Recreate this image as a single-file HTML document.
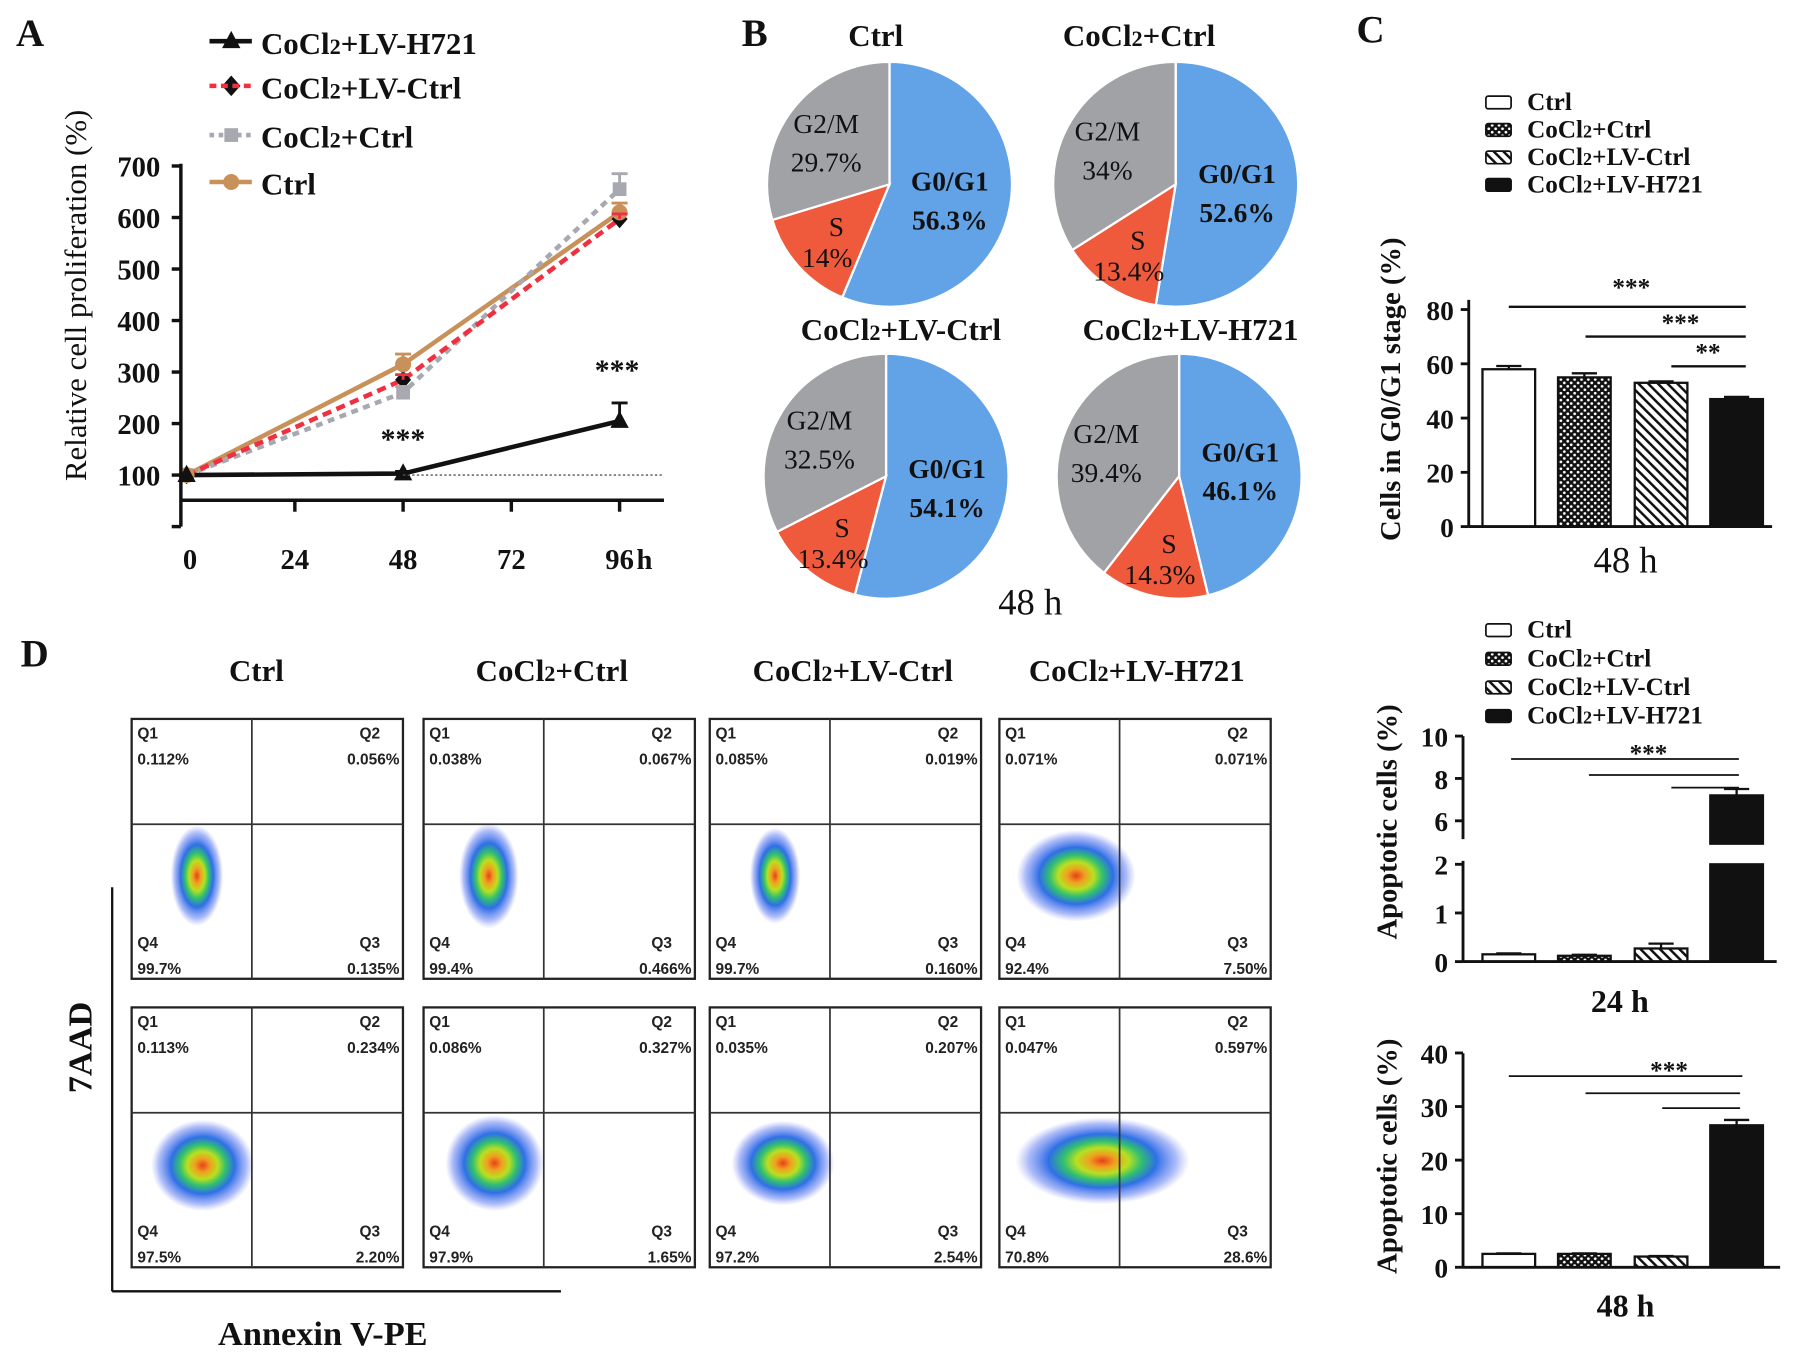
<!DOCTYPE html>
<html><head><meta charset="utf-8">
<style>html,body{margin:0;padding:0;background:#fff}svg{display:block}text{font-family:"Liberation Serif",serif}text.sans{font-family:"Liberation Sans",sans-serif}</style>
</head><body>
<svg id="fig" width="1795" height="1360" viewBox="0 0 1568 1188" preserveAspectRatio="none" xmlns="http://www.w3.org/2000/svg">
<defs>
<pattern id="chk" width="6" height="6" patternUnits="userSpaceOnUse"><rect width="6" height="6" fill="#111"/><circle cx="1.5" cy="1.5" r="1.2" fill="#fff"/><circle cx="4.5" cy="4.5" r="1.2" fill="#fff"/></pattern>
<pattern id="hat" width="6" height="6" patternUnits="userSpaceOnUse" patternTransform="rotate(-45)"><rect width="6" height="6" fill="#fff"/><rect width="2.2" height="6" fill="#111"/></pattern>
<radialGradient id="blob"><stop offset="0" stop-color="#e8401a"/><stop offset="0.15" stop-color="#f0a020"/><stop offset="0.3" stop-color="#b8e020"/><stop offset="0.45" stop-color="#30c070"/><stop offset="0.62" stop-color="#2f6fe6"/><stop offset="0.85" stop-color="#5a78f0" stop-opacity="0.5"/><stop offset="1" stop-color="#8090f8" stop-opacity="0"/></radialGradient>
</defs>
<g id="root"></g>
</svg>
<script>
// Panel A data
const hours = [0, 48, 96];
const xTicksA = [0, 24, 48, 72, 96];
const yTicksA = [100, 200, 300, 400, 500, 600, 700];
const lvH721 = [100, 103, 205];
const lvCtrl = [100, 285, 597];
const cocl2Ctrl = [100, 260, 655];
const ctrlA = [100, 315, 610];
const errH721 = [0, 4, 35];
// Panel B data
const pieTitles = ["Ctrl", "CoCl2+Ctrl", "CoCl2+LV-Ctrl", "CoCl2+LV-H721"];
const pieG0 = [56.3, 52.6, 54.1, 46.1];
const pieS = [14, 13.4, 13.4, 14.3];
const pieG2 = [29.7, 34, 32.5, 39.4];
// Panel C data
const groups = ["Ctrl", "CoCl2+Ctrl", "CoCl2+LV-Ctrl", "CoCl2+LV-H721"];
const g0g1 = [58, 55, 53, 47];
const g0g1Err = [1.2, 1.5, 0.5, 0.8];
const yTicksC = [0, 20, 40, 60, 80];
// Apoptosis data
const apo24 = [0.15, 0.12, 0.27, 7.2];
const apo24Err = [0.02, 0.02, 0.1, 0.3];
const apo48 = [2.5, 2.5, 2, 26.5];
const apo48Err = [0.1, 0.1, 0.1, 1];
const yTicks24Low = [0, 1, 2];
const yTicks24High = [6, 8, 10];
const yTicks48 = [0, 10, 20, 30, 40];
// Flow data
const flowTitles = ["Ctrl", "CoCl2+Ctrl", "CoCl2+LV-Ctrl", "CoCl2+LV-H721"];
const q1 = [["0.112%","0.038%","0.085%","0.071%"],["0.113%","0.086%","0.035%","0.047%"]];
const q2 = [["0.056%","0.067%","0.019%","0.071%"],["0.234%","0.327%","0.207%","0.597%"]];
const q3 = [["0.135%","0.466%","0.160%","7.50%"],["2.20%","1.65%","2.54%","28.6%"]];
const q4 = [["99.7%","99.4%","99.7%","92.4%"],["97.5%","97.9%","97.2%","70.8%"]];

const NS = "http://www.w3.org/2000/svg";
const root = document.getElementById('root');
function mk(tag, at, parent, txt) {
  const e = document.createElementNS(NS, tag);
  for (const k in at) e.setAttribute(k, at[k]);
  if (txt !== undefined) e.textContent = txt;
  (parent || root).appendChild(e);
  return e;
}
function line(x1,y1,x2,y2,w,c,extra){const l=mk('line',Object.assign({x1,y1,x2,y2,stroke:c||'#111','stroke-width':w||2},extra||{}));return l;}
function cocl(parent, x, y, label, size, anchor, weight) {
  const t = mk('text', {x, y, 'font-size': size, 'font-weight': weight||'bold', 'text-anchor': anchor||'start', fill:'#111'}, parent);
  const parts = label.split('CoCl2');
  if (parts.length === 1) { t.textContent = label; return t; }
  const a = document.createElementNS(NS,'tspan'); a.textContent = 'CoCl'; t.appendChild(a);
  const b = document.createElementNS(NS,'tspan'); b.textContent = '2'; b.setAttribute('font-size', size*0.72); t.appendChild(b);
  const c = document.createElementNS(NS,'tspan'); c.textContent = parts[1]; t.appendChild(c);
  return t;
}
function txt(x,y,s,size,anchor,weight,parent,extra){return mk('text',Object.assign({x,y,'font-size':size,'text-anchor':anchor||'middle','font-weight':weight||'bold',fill:'#111'},extra||{}),parent,s);}

// ---------- Panel A ----------
const gA = mk('g', {});


txt(14,40,'A',34,'start','bold',gA);
const xA = t => 163 + t * 3.94;
const yA = v => 415 - (v - 100) * 0.45;
line(158,143,158,460,3,'#111');
line(158,437,580,437,3,'#111');
yTicksA.forEach(v=>{line(150,yA(v),158,yA(v),3); txt(140,yA(v)+9,String(v),25,'end','bold',gA);});
line(150,460,158,460,3);
xTicksA.forEach(t=>{ if(t>0) line(xA(t),437,xA(t),447,3); txt(xA(t)+(t===0?3:0),497,String(t),25,'middle','bold',gA);});
txt(563,497,'h',25,'middle','bold',gA);
const yl = txt(0,0,'Relative cell proliferation (%)',27,'middle','normal',gA,{transform:'translate(75,258) rotate(-90)'});

line(xA(48),415,580,415,1.2,'#555',{'stroke-dasharray':'2,2'});
const seriesA = [
  {n:'series-ctrl', d:ctrlA, c:'#c8915a', dash:'', w:4},
  {n:'series-cocl2-ctrl', d:cocl2Ctrl, c:'#a8a8b0', dash:'6,5', w:4},
  {n:'series-cocl2-lv-ctrl', d:lvCtrl, c:'#f03040', dash:'8,5', w:4},
  {n:'series-cocl2-lv-h721', d:lvH721, c:'#111', dash:'', w:4}
];
seriesA.forEach(s=>{
  const p = mk('polyline',{points:hours.map((h,i)=>xA(h)+','+yA(s.d[i])).join(' '),fill:'none',stroke:s.c,'stroke-width':s.w,'stroke-dasharray':s.dash},gA);
  
  
});
[[cocl2Ctrl,'#a8a8b0',[0,12,30]],[ctrlA,'#c8915a',[0,20,18]],[lvCtrl,'#f03040',[0,10,10]],[lvH721,'#111',errH721]].forEach(([d,c,e])=>{
  hours.forEach((h,i)=>{ if(e[i]>0){ line(xA(h),yA(d[i]),xA(h),yA(d[i]+e[i]),2.5,c); line(xA(h)-7,yA(d[i]+e[i]),xA(h)+7,yA(d[i]+e[i]),2.5,c);} });
});
hours.forEach((h,i)=>{
  const x=xA(h);
  let y=yA(cocl2Ctrl[i]); mk('rect',{x:x-6,y:y-6,width:12,height:12,fill:'#a8a8b0'},gA);
  y=yA(lvCtrl[i]); mk('polygon',{points:`${x},${y-8} ${x+7},${y} ${x},${y+8} ${x-7},${y}`,fill:'#111'},gA);
  y=yA(ctrlA[i]); mk('circle',{cx:x,cy:y,r:7,fill:'#c8915a'},gA);
  y=yA(lvH721[i]); mk('polygon',{points:`${x},${y-9} ${x+8},${y+6} ${x-8},${y+6}`,fill:'#111'},gA);
});
txt(352,392,'***',26,'middle','bold',gA);
txt(539,332,'***',26,'middle','bold',gA);
const legA=[['CoCl2+LV-H721','#111','tri',''],['CoCl2+LV-Ctrl','#f03040','dia','6,4'],['CoCl2+Ctrl','#a8a8b0','sq','4,4'],['Ctrl','#c8915a','circ','']];
const legY=[38,77,120,161];
legA.forEach((l,i)=>{
  const g=mk('g',{},gA);
  
  
  const y=legY[i]-2;
  line(183,y,220,y,4,l[1],{'stroke-dasharray':l[3]});
  const x=202;
  if(l[2]==='tri') mk('polygon',{points:`${x},${y-9} ${x+8},${y+6} ${x-8},${y+6}`,fill:'#111'},g);
  if(l[2]==='dia') mk('polygon',{points:`${x},${y-9} ${x+8},${y} ${x},${y+9} ${x-8},${y}`,fill:'#111'},g);
  if(l[2]==='sq') mk('rect',{x:x-6,y:y-6,width:12,height:12,fill:'#a8a8b0'},g);
  if(l[2]==='circ') mk('circle',{cx:x,cy:y,r:7,fill:'#c8915a'},g);
  cocl(g,228,legY[i]+9,l[0],27,'start');
});

// ---------- Panel B ----------
const gB = mk('g',{});


txt(648,40,'B',34,'start','bold',gB);
const pc=[[777,161],[1027,161],[774,416],[1030,416]];
const ttl=[[765,40],[995,40],[787,297],[1040,297]];
function arcPath(cx,cy,r,a0,a1){const rad=a=>a*Math.PI/180;const x0=cx+r*Math.sin(rad(a0)),y0=cy-r*Math.cos(rad(a0)),x1=cx+r*Math.sin(rad(a1)),y1=cy-r*Math.cos(rad(a1));return `M${cx},${cy} L${x0},${y0} A${r},${r} 0 ${a1-a0>180?1:0} 1 ${x1},${y1} Z`;}
pieTitles.forEach((t,i)=>{
  cocl(gB,ttl[i][0],ttl[i][1],t,27,'middle');
  const [cx,cy]=pc[i], r=107;
  const vals=[pieG0[i],pieS[i],pieG2[i]], cols=['#62a3e8','#f05a3c','#a0a2a6'], names=['G0/G1','S','G2/M'];
  const tot=vals.reduce((a,b)=>a+b,0); let a=0;
  vals.forEach((v,k)=>{
    const a1=a+v/tot*360;
    const p=mk('path',{d:arcPath(cx,cy,r,a,a1),fill:cols[k],stroke:'#fff','stroke-width':2},gB);
    
    
    const m=(a+a1)/2*Math.PI/180, rr=k===1?0.66*r:0.55*r;
    const lx=cx+rr*Math.sin(m)+(k===1?6:(k===2?-8:-5)), ly=cy-rr*Math.cos(m)+(k===1?2:(k===2?-6:-2));
    const w=k===0?'bold':'normal';
    const sp=k===1?27:34;
    txt(lx,ly-4,names[k],24,'middle',w,gB);
    txt(lx+(k===1?-8:0),ly-4+sp,String(v)+'%',24,'middle',w,gB);
    a=a1;
  });
});
txt(900,537,'48 h',32,'middle','normal',gB);

// ---------- bar helper ----------
const fills=['#fff','url(#chk)','url(#hat)','#111'];
const barX=[1295,1361,1428,1494], barW=46;
function legendBars(g,y0,dy){
  groups.forEach((gname,i)=>{
    const e=mk('g',{},g);
    
    
    mk('rect',{x:1298,y:y0+i*dy-12,width:22,height:11,fill:fills[i],stroke:'#111','stroke-width':1.5,rx:2},e);
    cocl(e,1334,y0+i*dy,gname,22,'start');
  });
}

// ---------- Panel C ----------
const gC=mk('g',{});


txt(1185,37,'C',34,'start','bold',gC);
legendBars(gC,96,24);
const yC=v=>460-v*2.37;
line(1283,262,1283,460,2.5);
line(1283,460,1548,460,2.5);
yTicksC.forEach(v=>{line(1276,yC(v),1283,yC(v),2.5);txt(1270,yC(v)+9,String(v),24,'end','bold',gC);});
g0g1.forEach((v,i)=>{
  const r=mk('rect',{x:barX[i],y:yC(v),width:barW,height:460-yC(v),fill:fills[i],stroke:'#111','stroke-width':2},gC);
  
  
  line(barX[i]+barW/2,yC(v),barX[i]+barW/2,yC(v+g0g1Err[i]),2); line(barX[i]+12,yC(v+g0g1Err[i]),barX[i]+barW-12,yC(v+g0g1Err[i]),2);
});
line(1318,268,1525,268,2);line(1385,294,1525,294,2);line(1460,320,1525,320,2);
txt(1425,258,'***',22,'middle','bold',gC);txt(1468,289,'***',22,'middle','bold',gC);txt(1492,315,'**',22,'middle','bold',gC);
txt(0,0,'Cells in G0/G1 stage (%)',25,'middle','bold',gC,{transform:'translate(1223,340) rotate(-90)'});
txt(1420,500,'48 h',32,'middle','normal',gC);

// ---------- Apoptosis 24h ----------
const gE=mk('g',{});


legendBars(gE,557,25);
const yLow=v=>840-v*42.5, yHigh=v=>717-(v-6)*18.5;
const yApo=v=>v<=2.2?yLow(v):yHigh(v);
line(1278,643,1278,733,2.5);line(1278,752,1278,840,2.5);
line(1278,840,1552,840,2.5);
yTicks24Low.forEach(v=>{line(1271,yLow(v),1278,yLow(v),2.5);txt(1265,yLow(v)+9,String(v),24,'end','bold',gE);});
yTicks24High.forEach(v=>{line(1271,yHigh(v),1278,yHigh(v),2.5);txt(1265,yHigh(v)+9,String(v),24,'end','bold',gE);});
apo24.forEach((v,i)=>{
  let r;
  if(v<=2.2){ r=mk('rect',{x:barX[i],y:yLow(v),width:barW,height:840-yLow(v),fill:fills[i],stroke:'#111','stroke-width':2},gE); }
  else { r=mk('rect',{x:barX[i],y:yHigh(v),width:barW,height:737-yHigh(v),fill:fills[i],stroke:'#111','stroke-width':2},gE);
    mk('rect',{x:barX[i],y:yLow(2),width:barW,height:840-yLow(2),fill:fills[i],stroke:'#111','stroke-width':2},gE); }
  
  
  const et=yApo(v+apo24Err[i]);
  line(barX[i]+barW/2,yApo(v),barX[i]+barW/2,et,2);line(barX[i]+12,et,barX[i]+barW-12,et,2);
});
line(1320,663,1519,663,1.5);line(1388,677,1519,677,1.5);line(1460,688,1519,688,1.5);
txt(1440,665,'***',22,'middle','bold',gE);
txt(1415,884,'24 h',28,'middle','bold',gE);
txt(0,0,'Apoptotic cells (%)',25,'middle','bold',gE,{transform:'translate(1220,718) rotate(-90)'});

// ---------- Apoptosis 48h ----------
const gF=mk('g',{});


const y48=v=>1107-v*4.68;
line(1278,920,1278,1107,2.5);line(1278,1107,1555,1107,2.5);
yTicks48.forEach(v=>{line(1271,y48(v),1278,y48(v),2.5);txt(1265,y48(v)+9,String(v),24,'end','bold',gF);});
apo48.forEach((v,i)=>{
  const r=mk('rect',{x:barX[i],y:y48(v),width:barW,height:1107-y48(v),fill:fills[i],stroke:'#111','stroke-width':2},gF);
  
  
  const et=y48(v+apo48Err[i]);
  line(barX[i]+barW/2,y48(v),barX[i]+barW/2,et,2);line(barX[i]+12,et,barX[i]+barW-12,et,2);
});
line(1318,940,1522,940,1.5);line(1385,955,1520,955,1.5);line(1452,968,1520,968,1.5);
txt(1458,942,'***',22,'middle','bold',gF);
txt(1420,1150,'48 h',28,'middle','bold',gF);
txt(0,0,'Apoptotic cells (%)',25,'middle','bold',gF,{transform:'translate(1220,1010) rotate(-90)'});

// ---------- Panel D flow cytometry ----------
const gD=mk('g',{});


txt(18,582,'D',34,'start','bold',gD);
const colX=[115,370,620,873], rowY=[628,880], bw=237, bh=227;
const ttlX=[224,482,745,993];
flowTitles.forEach((t,i)=>cocl(gD,ttlX[i],595,t,27,'middle'));
const blobs=[[[57,137,23,44],[57,137,26,46],[57,137,22,42],[67,137,52,40]],[[62,138,45,40],[62,136,43,42],[64,136,45,37],[90,134,76,38]]];
rowY.forEach((ry,r)=>colX.forEach((cx,c)=>{
  const g=mk('g',{},gD);
  
  
  mk('rect',{x:cx,y:ry,width:bw,height:bh,fill:'#fff',stroke:'#222','stroke-width':2},g);
  const b=blobs[r][c];
  mk('ellipse',{cx:cx+b[0],cy:ry+b[1],rx:b[2],ry:b[3],fill:'url(#blob)'},g);
  line(cx+105,ry,cx+105,ry+bh,1.5,'#333');
  line(cx,ry+92,cx+bw,ry+92,1.5,'#333');
  const f=(x,y,s,a)=>mk('text',{x,y,'font-size':13.5,'font-weight':'bold','text-anchor':a,fill:'#222','class':'sans'},g,s);
  f(cx+5,ry+17,'Q1','start');f(cx+5,ry+40,q1[r][c],'start');
  f(cx+bw-20,ry+17,'Q2','end');f(cx+bw-3,ry+40,q2[r][c],'end');
  f(cx+5,ry+200,'Q4','start');f(cx+5,ry+223,q4[r][c],'start');
  f(cx+bw-20,ry+200,'Q3','end');f(cx+bw-3,ry+223,q3[r][c],'end');
}));
line(98,775,98,1128,2);line(98,1128,490,1128,2);
txt(0,0,'7AAD',30,'middle','bold',gD,{transform:'translate(80,915) rotate(-90)'});
txt(282,1175,'Annexin V-PE',30,'middle','bold',gD);
</script>
</body></html>
